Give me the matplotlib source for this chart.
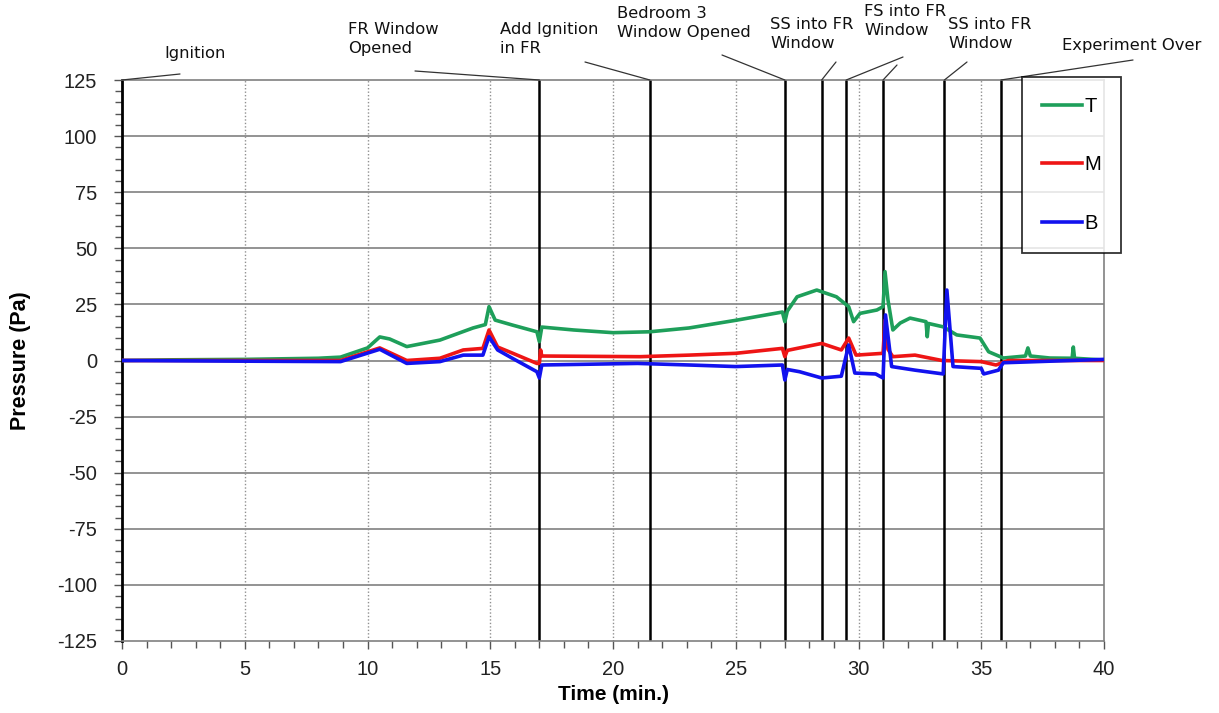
import numpy as np
import matplotlib
matplotlib.use('Agg')
import matplotlib.pyplot as plt
from matplotlib.ticker import MultipleLocator

plt.rcParams['axes.unicode_minus'] = False

# pressure traces (time in min, pressure in Pa)
t_T = [0, 2, 5, 8, 8.9, 10.0, 10.5, 10.9, 11.6, 12.95, 14.3, 14.8, 14.95, 15.2, 15.9,
       16.9, 17.0, 17.1, 18.4, 20.0, 21.5, 23.1, 25.05, 26.9, 27.0, 27.1, 27.5, 28.3,
       29.1, 29.6, 29.8, 30.06, 30.75, 31.0, 31.08, 31.2, 31.4, 31.7, 32.1, 32.75, 32.8,
       32.85, 33.45, 34.0, 34.95, 35.3, 35.9, 36.8, 36.9, 37.0, 37.8, 38.7, 38.75, 38.8, 40]
p_T = [0, 0.3, 0.5, 1.0, 1.5, 5.6, 10.5, 9.6, 6.2, 9.1, 14.5, 16, 24, 18, 15.8,
       12.8, 8.4, 14.9, 13.6, 12.4, 12.8, 14.5, 18, 21.6, 17.3, 22, 28.4, 31.4,
       28.4, 24, 17.3, 21, 22.5, 24, 39.6, 27, 13.6, 16.7, 18.9, 17.3, 10.6,
       16.5, 15, 11.4, 10, 3.9, 1.1, 2, 5.6, 2, 1.1, 1, 6, 1, 0.2]

t_M = [0, 5, 8.9, 10.5, 11.6, 12.95, 13.9, 14.7, 14.95, 15.3, 15.9, 16.9, 17.0, 17.05,
       17.1, 21.1, 23.1, 25.0, 26.9, 27.0, 27.1, 27.5, 28.5, 29.3, 29.6, 29.9, 31.0,
       31.08, 31.2, 31.4, 32.3, 33.4, 35.0, 35.6, 36.1, 40]
p_M = [0, 0, 0, 5.6, 0, 1, 4.7, 5.4, 13.6, 6, 3.3, -1.3, -1.3, 4.7,
       2, 1.7, 2.4, 3.2, 5.4, 1.7, 4.5, 5.4, 7.6, 4.7, 10, 2.4, 3.2,
       18, 5, 1.7, 2.4, 0, -0.5, -2, 0, 0]

t_B = [0, 5, 8.9, 10.5, 11.6, 12.95, 13.9, 14.7, 14.95, 15.3, 15.9, 16.9, 17.0, 17.1,
       21.0, 23.1, 25.0, 26.9, 27.0, 27.1, 27.6, 28.5, 29.3, 29.6, 29.85, 30.7, 31.0,
       31.1, 31.35, 32.3, 33.45, 33.6, 33.85, 35.0, 35.1, 35.7, 35.9, 40]
p_B = [0, -0.3, -0.5, 5, -1.3, -0.5, 2.4, 2.4, 10.6, 4.7, 1, -5, -7.8, -2,
       -1.3, -2, -2.7, -2, -8.7, -4, -5, -7.8, -7, 6.9, -5.6, -6, -7.8,
       20.3, -2.7, -4.3, -6, 31.4, -2.7, -3.5, -6, -4.3, -1, 0.5]

# events (min) and their labels
event_times = [17, 21.5, 27, 28.5, 29.5, 31, 33.5, 35.8]
labels = ['Ignition', 'FR Window\nOpened', 'Add Ignition\nin FR', 'Bedroom 3\nWindow Opened',
          'SS into FR\nWindow', 'FS into FR\nWindow', 'SS into FR\nWindow', 'Experiment Over']
label_times = [[0], [17], [21.5], [27], [28.5], [29.5, 31], [33.5], [35.8]]

W, H = 1219, 713
fig = plt.figure(figsize=(W / 100, H / 100), dpi=100)
ax = fig.add_axes([122 / W, 1 - 641 / H, (1104 - 122) / W, (641 - 80) / H])

ax.set_xlim(0, 40)
ax.set_ylim(-125, 125)

# grid
for y in np.arange(-100, 125, 25):
    ax.axhline(y, color='#808080', lw=1.2, zorder=1)
for x in np.arange(5, 40, 5):
    ax.axvline(x, color='#909090', lw=1.0, ls=(0, (1, 1.5)), zorder=1)

for t in event_times:
    ax.axvline(t, color='black', lw=1.8, zorder=2)

ax.plot(t_T, p_T, color='#1e9f5a', lw=2.6, label='T', zorder=3)
ax.plot(t_M, p_M, color='#ee1515', lw=2.6, label='M', zorder=4)
ax.plot(t_B, p_B, color='#1212ee', lw=2.6, label='B', zorder=5)

ax.xaxis.set_major_locator(MultipleLocator(5))
ax.xaxis.set_minor_locator(MultipleLocator(1))
ax.yaxis.set_major_locator(MultipleLocator(25))
ax.yaxis.set_minor_locator(MultipleLocator(5))
ax.tick_params(which='both', direction='out', color='#555555', width=1)
ax.tick_params(which='major', length=6, labelsize=14.5, labelcolor='#222222')
ax.tick_params(which='minor', length=5)
ax.tick_params(axis='y', pad=12)
ax.tick_params(axis='x', pad=8)
for lab in ax.get_xticklabels() + ax.get_yticklabels():
    lab.set_family('Liberation Sans')

for s in ['top', 'right', 'bottom']:
    ax.spines[s].set_color('#808080')
    ax.spines[s].set_linewidth(1.2)
ax.spines['left'].set_color('black')
ax.spines['left'].set_linewidth(2)

ax.set_xlabel('Time (min.)', fontsize=15, fontweight='bold', family='Liberation Sans', labelpad=4)
ax.set_ylabel('Pressure (Pa)', fontsize=15.5, fontweight='bold', family='Liberation Sans')
ax.yaxis.set_label_coords(-0.093, 0.5)

# annotation text positions (image pixels, left edge / top) and leader starts
text_pos = [(164, 46), (348, 22), (500, 22), (617, 6), (770, 17), (864, 4), (948, 17), (1062, 38)]
leader_start = [[(180, 74)], [(415, 71)], [(585, 62)], [(722, 55)], [(836, 62)],
                [(903, 57), (897, 65)], [(967, 62)], [(1133, 60)]]

for lab, (px, py), starts, times in zip(labels, text_pos, leader_start, label_times):
    fig.text(px / W, 1 - py / H, lab, ha='left', va='top', fontsize=11.8,
             linespacing=1.3, color='#111111')
    for (sx, sy), t in zip(starts, times):
        ax.annotate('', xy=(t, 125), xycoords='data', xytext=(sx, H - sy),
                    textcoords='figure pixels', annotation_clip=False,
                    arrowprops=dict(arrowstyle='-', lw=0.9, color='#333333',
                                    shrinkA=0, shrinkB=0))

leg = fig.legend(loc='upper left', bbox_to_anchor=(1022 / W, 1 - 77 / H),
                 fontsize=14.5, frameon=True, fancybox=False, edgecolor='black',
                 handlelength=2.0, handletextpad=0.1, labelspacing=1.95,
                 borderpad=1.0, borderaxespad=0, markerfirst=True)
leg.get_frame().set_linewidth(1.3)
for txt in leg.get_texts():
    txt.set_family('Liberation Sans')

fig.savefig('out.png', dpi=100)
